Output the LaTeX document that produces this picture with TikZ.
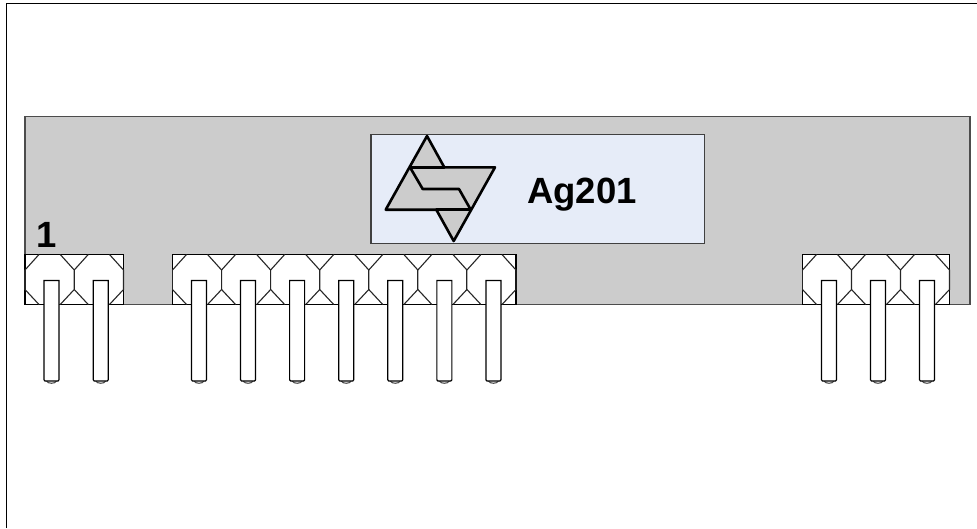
\documentclass[tikz,border=0pt]{standalone}
\usepackage{fontspec}
\setmainfont{Liberation Sans}
\definecolor{bodygrey}{HTML}{CCCCCC}
\definecolor{plate}{HTML}{E6ECF8}
\tikzset{
  x=1pt,y=-1pt,
  frameline/.style={draw=black,line width=1.3pt},
  body/.style={fill=bodygrey,draw=black!70,line width=1.3pt},
  plateb/.style={fill=plate,draw=black!75,line width=1.2pt},
  housing/.style={fill=white,draw=black,line width=1.3pt},
  chamfer/.style={draw=black!85,line width=1.1pt},
  pinb/.style={fill=white,draw=black,line width=1.2pt},
  pintip/.style={fill=white,draw=black!70,line width=1.1pt},
  logo/.style={draw=black,line width=2.6pt,line join=round,line cap=round},
  bigtext/.style={font=\bfseries\fontsize{36.5}{36.5}\selectfont,text=black,inner sep=0pt}
}
\newcommand{\housingrow}[3]{% x0, count, pitch
  \foreach \k in {1,...,#2}{
    \pgfmathsetmacro{\a}{#1+(\k-1)*#3}
    \pgfmathsetmacro{\b}{\a+#3}
    \draw[chamfer] (\a,270) -- (\a+14,254.5) (\b-14,254.5) -- (\b,270) -- (\b,289.5) -- (\b-14,304.5)
      (\a,289.5) -- (\a+14,304.5);
    \draw[chamfer] (\a,270) -- (\a,289.5);
    \pgfmathsetmacro{\p}{\a+19}
    \draw[pintip] (\p+2.5,381) .. controls (\p+4,384) and (\p+11,384) .. (\p+12.5,381);
    \draw[pinb] (\p,280.5) -- (\p+15,280.5) -- (\p+15,379.8) -- (\p+14,381) -- (\p+1,381) -- (\p,379.8) -- cycle;
  }
}
\begin{document}
\begin{tikzpicture}
\useasboundingbox (0,0) rectangle (977,528);
\draw[frameline] (6.5,528) -- (6.5,3.5) -- (977,3.5);
\draw[body] (25,116.5) rectangle (970,304.5);
\draw[plateb] (371,134.5) rectangle (704.5,243.5);
\draw[logo,fill=bodygrey] (427,136) -- (444.3,167.3) -- (495,167.3) -- (453.7,241) -- (436.3,209.7) -- (385.7,209.7) -- cycle;
\draw[logo] (410,167.3) -- (444.3,167.3);
\draw[logo] (436.3,209.7) -- (470.7,209.7);
\draw[logo] (410,167.3) -- (422.7,189) -- (459,189) -- (470.7,209.7);
\node[bigtext,anchor=base west] (title) at (527,203) {Ag201};
\node[bigtext,anchor=base west] (one) at (36.5,247.5) {1};
\draw[housing] (25,254.5) rectangle (123.5,304.5);
\housingrow{25}{2}{49.25}
\draw[housing] (172.5,254.5) rectangle (516,304.5);
\housingrow{172.5}{7}{49.07}
\draw[housing] (802.5,254.5) rectangle (949.5,304.5);
\housingrow{802.5}{3}{49}
\end{tikzpicture}
\end{document}
